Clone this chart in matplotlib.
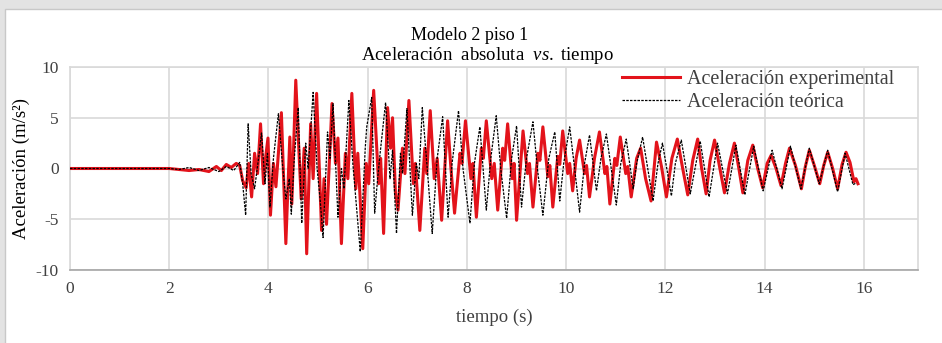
import matplotlib
matplotlib.use("Agg")
import matplotlib.pyplot as plt
from matplotlib.patches import Rectangle

plt.rcParams['font.family'] = ['Liberation Serif', 'DejaVu Serif']
plt.rcParams['mathtext.fontset'] = 'custom'
plt.rcParams['mathtext.rm'] = 'Liberation Serif'
plt.rcParams['mathtext.it'] = 'Liberation Serif:italic'

# experimental record: turning points (t in s, a in m/s2)
exp_t = [0, 2.0, 2.2, 2.4, 2.6, 2.8, 2.95, 3.05, 3.15, 3.25, 3.35, 3.42,
         3.48, 3.55, 3.60, 3.66, 3.72, 3.78, 3.84, 3.90, 3.94, 3.99, 4.04, 4.10,
         4.15, 4.26, 4.35, 4.43, 4.47, 4.55, 4.62, 4.66, 4.72, 4.77, 4.85, 4.90,
         4.97, 5.07, 5.12, 5.17, 5.28, 5.35, 5.40, 5.47, 5.55, 5.60, 5.68, 5.76,
         5.80, 5.90, 5.97, 6.02, 6.12, 6.22, 6.26, 6.32, 6.40, 6.46, 6.50, 6.56,
         6.61, 6.70, 6.75, 6.83, 6.92, 6.96, 7.05, 7.15, 7.19, 7.26, 7.34, 7.40,
         7.49, 7.61, 7.67, 7.75, 7.86, 7.90, 7.97, 8.08, 8.12, 8.19, 8.29, 8.33,
         8.39, 8.50, 8.55, 8.62, 8.72, 8.76, 8.82, 8.91, 8.95, 9.00, 9.13, 9.22,
         9.26, 9.33, 9.43, 9.47, 9.53, 9.63, 9.67, 9.73, 9.83, 9.87, 9.93, 10.03,
         10.07, 10.13, 10.20, 10.27, 10.37, 10.41, 10.47, 10.57, 10.67, 10.78,
         10.82, 10.88, 10.98, 11.02, 11.09, 11.20, 11.24, 11.31, 11.42, 11.50,
         11.60, 11.71, 11.82, 11.92, 12.02, 12.13, 12.24, 12.34, 12.45, 12.55,
         12.65, 12.73, 12.82, 12.90, 12.99, 13.09, 13.19, 13.29, 13.39, 13.48,
         13.56, 13.66, 13.76, 13.86, 13.96, 14.05, 14.13, 14.23, 14.33, 14.42,
         14.50, 14.62, 14.74, 14.82, 14.90, 15.00, 15.11, 15.19, 15.27, 15.37,
         15.47, 15.56, 15.64, 15.72, 15.80, 15.84, 15.88]
exp_a = [0, 0, -0.1, -0.2, -0.1, -0.3, 0.2, -0.2, 0.4, 0.1, 0.5, 0.3,
         -1.2, -1.9, 0.5, -2.8, 1.5, -0.5, 4.4, -1.5, 1.0, 3.0, -4.6, 0.5,
         -1.8, 5.5, -7.4, 3.1, -3.5, 8.7, 1.0, -3.0, 2.0, -8.4, 4.4, -1.0,
         7.4, -6.1, -1.0, -5.5, 6.4, 0.5, 3.0, -7.4, 1.5, -1.0, 7.4, -2.0,
         1.5, -7.9, 0.5, -1.5, 7.7, -1.5, 1.0, -6.4, 6.0, 2.0, 5.0, -2.5,
         -4.1, 2.0, -0.5, 6.7, -1.5, 0.5, -6.1, 2.0, -0.5, 5.7, -1.0, 1.0,
         -5.1, 4.7, 0.5, -4.4, 1.5, 0.5, 4.7, -1.0, 0.5, -4.8, 2.0, 1.0,
         4.7, -1.0, 0.5, -4.1, 2.0, 0.8, 4.4, -1.0, 0.5, -5.1, 3.7, -0.5,
         0.5, -3.8, 1.5, 0.8, 4.1, -0.8, 0.3, -3.8, 1.2, 0.4, 3.7, -0.5,
         0.5, -2.2, 1.0, 2.8, -0.5, 0.3, -2.8, 1.0, 3.6, -0.5,
         0.2, -3.5, 1.0, 0.3, 3.1, -0.5, 0.2, -2.8, 1.0, 2.0,
         -1.0, -3.2, 2.6, 0.2, -2.8, 1.0, 2.9, 0.2, -2.6, 0.8,
         2.9, 0.0, -2.5, 0.8, 2.8, 0.2, -2.4, 0.5, 2.5, 0.0,
         -2.4, 0.8, 2.3, 0.0, -1.9, 0.5, 1.3, 0.0, -1.7, 0.5,
         2.0, 0.3, -2.0, 0.2, 1.8, 0.3, -1.5, 0.3, 1.6, 0.0,
         -2.0, 0.4, 1.6, 0.6, -1.3, -1.0, -1.5]

# theoretical record
teo_t = [0, 2.0, 2.2, 2.4, 2.6, 2.8, 3.0, 3.15, 3.3, 3.42, 3.48, 3.54,
         3.59, 3.65, 3.72, 3.80, 3.86, 3.93, 3.98, 4.03, 4.10, 4.20, 4.28, 4.35,
         4.42, 4.46, 4.52, 4.60, 4.67, 4.75, 4.80, 4.90, 4.98, 5.04, 5.10, 5.19,
         5.24, 5.30, 5.40, 5.47, 5.52, 5.62, 5.70, 5.76, 5.85, 5.95, 5.98, 6.08,
         6.14, 6.20, 6.25, 6.36, 6.45, 6.50, 6.58, 6.66, 6.70, 6.79, 6.90, 6.98,
         7.03, 7.10, 7.20, 7.30, 7.40, 7.51, 7.62, 7.70, 7.83, 7.92, 8.06, 8.15,
         8.26, 8.39, 8.48, 8.59, 8.68, 8.80, 8.90, 9.00, 9.10, 9.20, 9.33, 9.42,
         9.53, 9.65, 9.77, 9.87, 9.95, 10.07, 10.17, 10.27, 10.37, 10.47, 10.61,
         10.70, 10.81, 11.01, 11.10, 11.21, 11.35, 11.42, 11.54, 11.75, 11.85,
         11.94, 12.12, 12.20, 12.32, 12.50, 12.70, 12.88, 13.05, 13.25, 13.42,
         13.60, 13.78, 13.97, 14.15, 14.35, 14.52, 14.73, 14.90, 15.10, 15.27,
         15.47, 15.62, 15.78, 15.85]
teo_a = [0, 0, -0.1, 0.1, -0.2, 0.1, -0.3, 0.2, -0.2, 0.6, -1.5, -4.6,
         4.4, -0.5, -2.0, 1.0, 3.5, -1.5, 1.5, -3.8, 1.0, 5.4, 0.5, -3.0,
         -1.0, -4.5, 1.0, 6.0, -5.4, 2.5, 0.0, 7.5, 0.0, -3.0, -6.8, 3.6,
         1.0, 6.4, -4.8, 0.0, -2.0, 6.7, 0.5, -3.0, -8.2, 2.0, 4.1, 7.0,
         -4.4, -1.0, 1.5, 6.5, -1.0, 1.8, -6.4, 1.5, -0.5, 5.9, -4.6, 0.5,
         -1.0, 6.0, 0.0, -6.4, 1.0, 5.1, -4.8, 0.5, 5.7, 0.0, -5.4, 0.5,
         4.1, -4.1, 1.0, 5.2, 0.0, -4.9, 1.0, 4.2, -3.8, 1.0, 4.6, 0.0,
         -4.6, 1.0, 3.6, -3.2, 0.5, 4.1, 0.0, -4.3, 0.5, 3.3, -2.2,
         1.0, 3.4, -3.6, 0.5, 2.9, -2.0, 0.5, 3.1, -3.2, 0.5,
         2.5, -2.7, 0.5, 2.8, -2.5, 2.7, -2.8, 2.5, -2.5, 2.3,
         -2.6, 2.2, -2.2, 1.8, -2.0, 2.2, -2.0, 2.0, -1.5, 1.8,
         -2.3, 1.5, -1.6, -1.4]

x_ticks = [0, 2, 4, 6, 8, 10, 12, 14, 16]
y_ticks = [-10, -5, 0, 5, 10]
y_ticklabels = ['-10', '-5', '0', '5', '10']

fig = plt.figure(figsize=(9.42, 3.43), dpi=100)
fig.patch.set_facecolor('#e3e3e3')
# white chart area with a thin border, behind the axes
fig.patches.append(Rectangle((5 / 942, -0.01), 1.0, (343 - 9) / 343 + 0.01,
                             transform=fig.transFigure, facecolor='white',
                             edgecolor='#c8c8c8', lw=1.0, zorder=-10))

ax = fig.add_axes([70 / 942, 73 / 343, 848 / 942, 203 / 343])
ax.patch.set_alpha(0)
ax.plot(exp_t, exp_a, color='#e3131b', lw=2.2, label='Aceleración experimental', zorder=3)
ax.plot(teo_t, teo_a, color='black', lw=0.9, ls=(0, (2, 1)), label='Aceleración teórica', zorder=4)

ax.set_xlim(0, 17.09)
ax.set_ylim(-10, 10)
ax.set_xticks(x_ticks)
ax.set_yticks(y_ticks)
ax.set_yticklabels(y_ticklabels)
ax.grid(True, color='#d9d9d9', lw=1.2)
ax.set_axisbelow(True)
for s in ['top', 'right', 'left']:
    ax.spines[s].set_color('#d9d9d9')
    ax.spines[s].set_linewidth(1.2)
ax.spines['bottom'].set_color('#a6a6a6')
ax.spines['bottom'].set_linewidth(1.2)
ax.tick_params(length=0, labelsize=12.5, colors='#404040', pad=8)

ax.set_xlabel('tiempo (s)', fontsize=13.5, color='#404040', labelpad=8)
ax.set_ylabel('Aceleración (m/s²)', fontsize=13.5, color='black', labelpad=4)

fig.text(470 / 942, 1 - 36 / 343, 'Modelo 2 piso 1', ha='center', va='center', fontsize=13)
fig.text(487 / 942, 1 - 56 / 343, r'Aceleración  absoluta  $\mathit{vs.}$ tiempo',
         ha='center', va='center', fontsize=13.5)

ax.legend(loc='upper left', bbox_to_anchor=(622 / 942, 1 - 70 / 343),
          bbox_transform=fig.transFigure, frameon=False, fontsize=14.5,
          handlelength=2.9, handletextpad=0.35, labelspacing=0.2,
          borderpad=0, borderaxespad=0, labelcolor='#404040')

fig.savefig('out.png', dpi=100, facecolor=fig.get_facecolor())
